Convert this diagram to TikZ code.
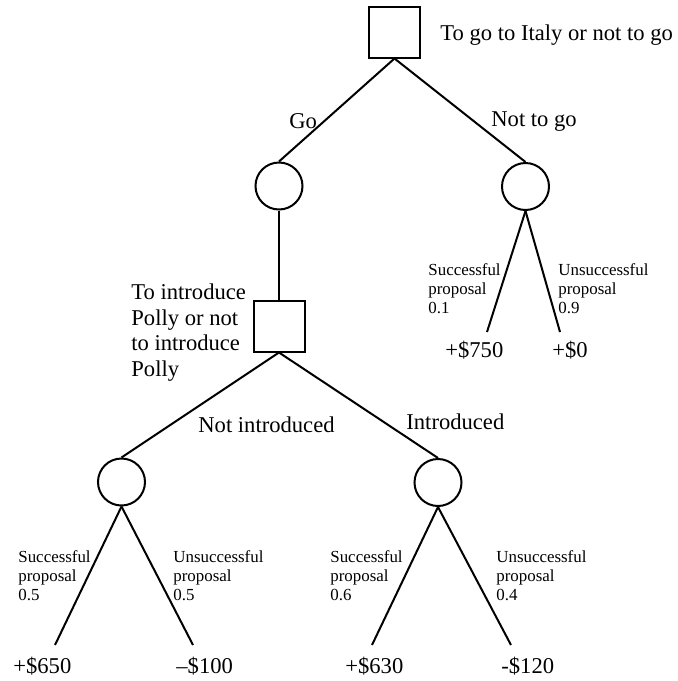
\documentclass[tikz,border=0pt]{standalone}
\usepackage{fontspec}
\setmainfont{Liberation Serif}
\begin{document}
\begin{tikzpicture}[x=0.5pt,y=-0.5pt,
  decision/.style={draw, rectangle, line width=1pt, minimum size=25.5pt, inner sep=0pt},
  chance/.style={draw, circle, line width=1pt, minimum size=23.5pt, inner sep=0pt},
  branch/.style={line width=1pt},
  big/.style={font=\fontsize{11.3pt}{12.8pt}\selectfont, inner sep=0pt},
  small/.style={font=\fontsize{8.45pt}{9.5pt}\selectfont, inner sep=0pt, align=left, anchor=north west}]
\useasboundingbox (0,0) rectangle (677,681);

% decision and chance nodes
\node[decision] (trip)  at (394.5,32) {};
\node[chance]   (go)    at (279,186) {};
\node[chance]   (stay)  at (525.5,186.5) {};
\node[decision] (polly) at (279,326) {};
\node[chance]   (noint) at (121.5,482) {};
\node[chance]   (int)   at (438,482.5) {};

% free ends of the outcome branches
\coordinate (s1) at (487,332);
\coordinate (u1) at (560,332);
\coordinate (s2) at (55,645);
\coordinate (u2) at (193,645);
\coordinate (s3) at (372,645);
\coordinate (u3) at (511,645);

% branches
\draw[branch] (trip.south) -- (go.north);
\draw[branch] (trip.south) -- (stay.north);
\draw[branch] (go.south) -- (polly.north);
\draw[branch] (stay.south) -- (s1);
\draw[branch] (stay.south) -- (u1);
\draw[branch] (polly.south) -- (noint.north);
\draw[branch] (polly.south) -- (int.north);
\draw[branch] (noint.south) -- (s2);
\draw[branch] (noint.south) -- (u2);
\draw[branch] (int.south) -- (s3);
\draw[branch] (int.south) -- (u3);

% decision labels
\node[big, anchor=base west] (qtrip) at (440,40.5) {To go to Italy or not to go};
\node[big, align=left, anchor=north west] (qpolly) at (131,283.6)
  {To introduce\\Polly or not\\to introduce\\Polly};

% branch labels
\node[big, anchor=base west] (lgo)    at (289,128) {Go};
\node[big, anchor=base west] (lstay)  at (491,126) {Not to go};
\node[big, anchor=base west] (lnoint) at (198,432) {Not introduced};
\node[big, anchor=base west] (lint)   at (406,429) {Introduced};

% probabilities
\node[small] (p1s) at (428,263.5) {Successful\\proposal\\0.1};
\node[small] (p1u) at (558,263.5) {Unsuccessful\\proposal\\0.9};
\node[small] (p2s) at (18,550.5)  {Successful\\proposal\\0.5};
\node[small] (p2u) at (173,550.5) {Unsuccessful\\proposal\\0.5};
\node[small] (p3s) at (330,550.5) {Successful\\proposal\\0.6};
\node[small] (p3u) at (496,550.5) {Unsuccessful\\proposal\\0.4};

% payoffs
\node[big, anchor=base west] (v1) at (445,357) {+\$750};
\node[big, anchor=base west] (v2) at (552,357) {+\$0};
\node[big, anchor=base west] (v3) at (13,673)  {+\$650};
\node[big, anchor=base west] (v4) at (176,673) {--\$100};
\node[big, anchor=base west] (v5) at (345,673) {+\$630};
\node[big, anchor=base west] (v6) at (501,673) {-\$120};
\end{tikzpicture}
\end{document}
